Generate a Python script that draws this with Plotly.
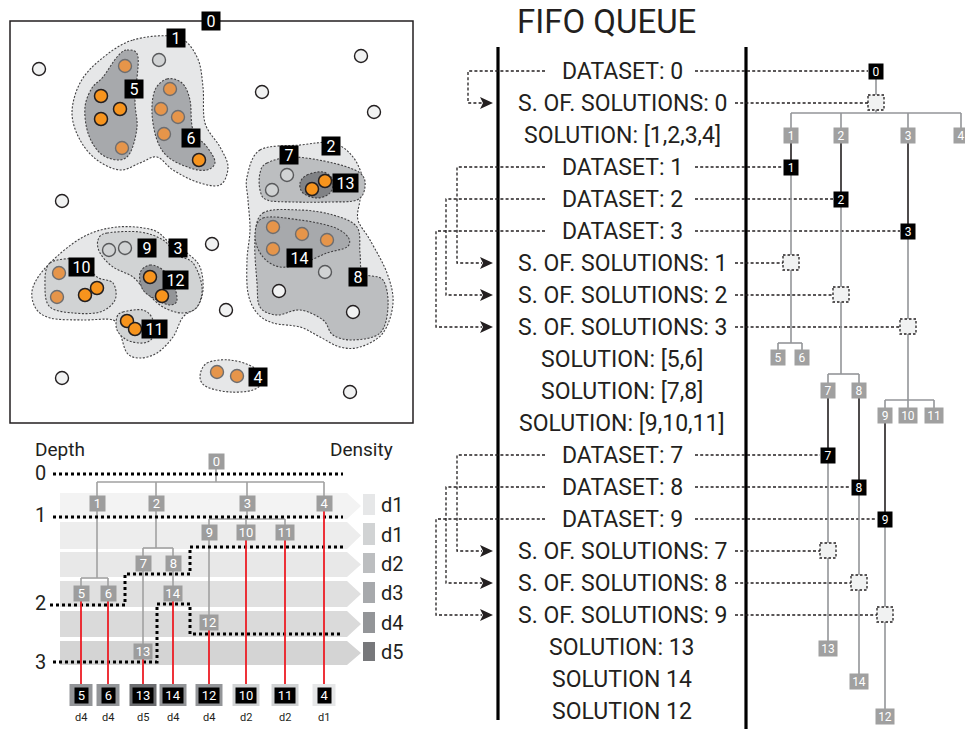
import plotly.graph_objects as go

W, H = 965, 729
FONT = "Roboto"
INK = "#231f20"

# ---------------- cluster map data (pixel space) ----------------
noise_x = [39, 361, 262, 374, 62, 212, 226, 62, 350, 279, 353]
noise_y = [69, 56, 92, 112, 201, 244, 310, 378, 392, 291, 312]
grey_x = [159, 287, 272, 109, 125, 325]
grey_y = [60, 175, 190, 250, 248, 272]
lorange_x = [125, 122, 170, 161, 178, 164, 273, 302, 327, 273, 59, 57, 217, 237]
lorange_y = [66, 148, 89, 109, 117, 134, 227, 234, 240, 249, 273, 297, 372, 376]
orange_x = [101, 120, 101, 199, 325, 312, 85, 97, 150, 162, 127, 135]
orange_y = [96, 109, 119, 160, 181, 189, 295, 288, 277, 296, 321, 329]

cluster_labels = ["0", "1", "5", "6", "2", "7", "13", "14", "8", "9", "3", "10", "12", "11", "4"]
cluster_label_x = [211, 176, 134, 191, 331, 289, 345, 299, 358, 147, 178, 81, 175, 154, 258]
cluster_label_y = [21, 38, 89, 138, 146, 155, 183, 258, 277, 248, 248, 267, 280, 329, 377]

regions = [
    ("#e6e7e8", [(133,40),(177,37),(197,57),(203,87),(205,123),(220,147),(228,167),(220,185),(197,182),(173,170),(157,157),(140,163),(120,170),(97,160),(80,140),(72,113),(80,83),(100,60)]),
    ("#e6e7e8", [(260,150),(300,145),(333,143),(353,157),(363,180),(360,200),(358,220),(370,240),(387,273),(393,303),(383,333),(360,347),(340,347),(320,337),(300,327),(273,323),(257,313),(248,293),(247,260),(250,230),(248,200),(247,177)]),
    ("#e6e7e8", [(50,263),(83,237),(117,227),(153,230),(170,243),(187,253),(200,267),(203,290),(197,307),(183,317),(173,337),(157,353),(140,358),(127,353),(120,333),(113,320),(83,320),(50,318),(35,307),(33,287)]),
    ("#e6e7e8", [(207,363),(230,360),(253,367),(263,380),(253,390),(230,392),(207,387),(200,377)]),
    ("#a7a9ac", [(127,50),(138,57),(135,100),(137,127),(130,153),(118,160),(100,153),(88,133),(85,107),(92,88),(103,77),(117,57)]),
    ("#a7a9ac", [(167,79),(182,83),(190,100),(193,130),(207,147),(215,162),(207,170),(190,168),(168,157),(157,140),(152,113),(155,90)]),
    ("#bcbec0", [(267,163),(293,157),(333,163),(360,173),(365,187),(357,200),(330,202),(293,202),(267,200),(260,190),(260,173)]),
    ("#808285", [(307,175),(323,172),(333,180),(330,193),(317,198),(303,193),(300,183)]),
    ("#bcbec0", [(263,213),(300,210),(333,215),(357,227),(360,253),(363,273),(383,280),(388,307),(380,333),(353,340),(333,335),(323,320),(300,310),(277,315),(260,307),(257,283),(255,240)]),
    ("#a7a9ac", [(263,218),(300,220),(333,227),(348,237),(347,247),(327,253),(303,263),(280,267),(263,257),(255,237)]),
    ("#d1d3d4", [(107,233),(140,232),(163,240),(177,255),(193,263),(202,287),(197,307),(182,313),(163,307),(147,293),(133,277),(113,267),(100,253),(98,240)]),
    ("#939598", [(150,265),(163,270),(173,283),(177,300),(170,305),(157,300),(143,290),(140,273)]),
    ("#d1d3d4", [(50,263),(80,260),(97,277),(113,283),(115,300),(100,312),(73,313),(50,307),(45,287)]),
    ("#d1d3d4", [(123,312),(143,310),(153,320),(153,337),(143,343),(127,340),(117,330),(117,317)]),
]

# ---------------- depth / density tree data ----------------
tree_labels = ["0", "1", "2", "3", "4", "9", "10", "11", "7", "8", "5", "6", "14", "12", "13"]
tree_x = [216, 97, 156, 247, 324, 209, 246, 285, 143, 173, 81, 108, 173, 209, 143]
tree_y = [461, 503, 503, 503, 503, 532, 532, 532, 563, 563, 593, 593, 593, 622, 651]
leaf_labels = ["5", "6", "13", "14", "12", "10", "11", "4"]
leaf_density = ["d4", "d4", "d5", "d4", "d4", "d2", "d2", "d1"]
density_names = ["d1", "d1", "d2", "d3", "d4", "d5"]
density_colors = {"d1": "#e6e7e8", "d2": "#d1d3d4", "d3": "#a7a9ac", "d4": "#939598", "d5": "#6d6e71"}
legend_colors = ["#e6e7e8", "#d1d3d4", "#bcbec0", "#a7a9ac", "#939598", "#77787b"]
band_colors = ["#f3f3f3", "#ededed", "#e8e8e8", "#e0e0e0", "#dadada", "#d4d4d4"]
band_top = [493, 522, 552, 581, 611, 641]
band_bot = [519, 549, 577, 607, 637, 665]
depth_ticks = ["0", "1", "2", "3"]
depth_tick_y = [473, 515, 603, 662]

# ---------------- FIFO queue data ----------------
queue_items = ["DATASET: 0", "S. OF. SOLUTIONS: 0", "SOLUTION: [1,2,3,4]",
               "DATASET: 1", "DATASET: 2", "DATASET: 3",
               "S. OF. SOLUTIONS: 1", "S. OF. SOLUTIONS: 2", "S. OF. SOLUTIONS: 3",
               "SOLUTION: [5,6]", "SOLUTION: [7,8]", "SOLUTION: [9,10,11]",
               "DATASET: 7", "DATASET: 8", "DATASET: 9",
               "S. OF. SOLUTIONS: 7", "S. OF. SOLUTIONS: 8", "S. OF. SOLUTIONS: 9",
               "SOLUTION: 13", "SOLUTION 14", "SOLUTION 12"]
row_y = [71 + 32 * i for i in range(len(queue_items))]
# (dataset row, sets-of-solutions row, loop x, node x)
queue_links = [(0, 1, 468, 876), (3, 6, 457, 791), (4, 7, 446, 841), (5, 8, 436, 908),
               (12, 15, 457, 828), (13, 16, 446, 859), (14, 17, 436, 885)]
q_black_labels = ["0", "1", "2", "3", "7", "8", "9"]
q_gray_labels = ["1", "2", "3", "4", "5", "6", "7", "8", "9", "10", "11", "13", "14", "12"]
q_gray_x = [791, 841, 908, 961, 778, 802, 828, 859, 885, 908, 934, 828, 859, 885]
q_gray_y = [135, 135, 135, 135, 357, 357, 390, 390, 415, 415, 415, 648, 681, 716]

shapes, annotations = [], []


def smooth_path(pts):
    n = len(pts)
    s = f"M {pts[0][0]},{pts[0][1]}"
    for i in range(n):
        p0, p1, p2, p3 = pts[i - 1], pts[i], pts[(i + 1) % n], pts[(i + 2) % n]
        c1 = (p1[0] + (p2[0] - p0[0]) / 6, p1[1] + (p2[1] - p0[1]) / 6)
        c2 = (p2[0] - (p3[0] - p1[0]) / 6, p2[1] - (p3[1] - p1[1]) / 6)
        s += f" C {c1[0]:.1f},{c1[1]:.1f} {c2[0]:.1f},{c2[1]:.1f} {p2[0]},{p2[1]}"
    return s + " Z"


def poly(pts, color, width, dash=None, fill=None, closed=False):
    p = "M " + " L ".join(f"{x},{y}" for x, y in pts) + (" Z" if closed else "")
    shapes.append(dict(type="path", path=p, xref="x", yref="y", layer="below",
                       line=dict(color=color, width=width, dash=dash) if width else dict(width=0),
                       fillcolor=fill if fill else "rgba(0,0,0,0)"))


def rect(x0, y0, x1, y1, fill, color=None, width=0, dash=None):
    shapes.append(dict(type="rect", x0=x0, y0=y0, x1=x1, y1=y1, xref="x", yref="y", layer="below",
                       fillcolor=fill, line=dict(color=color or fill, width=width, dash=dash)))


def box(x, y, t, w, h, bg, size, fg="white"):
    annotations.append(dict(x=x, y=y, xref="x", yref="y", text=t, showarrow=False, width=w, height=h,
                            bgcolor=bg, borderpad=0, align="center", valign="middle",
                            font=dict(family=FONT, size=size, color=fg)))


def label(x, y, t, size, anchor="center", color=INK):
    annotations.append(dict(x=x, y=y, xref="x", yref="y", text=t, showarrow=False, xanchor=anchor,
                            yanchor="middle", font=dict(family=FONT, size=size, color=color)))


fig = go.Figure()

# ================= cluster map =================
rect(10, 21, 413, 423, "white", INK, 1.5)
for col, pts in regions:
    shapes.append(dict(type="path", path=smooth_path(pts), xref="x", yref="y", layer="below",
                       fillcolor=col, line=dict(color="#414042", width=1.1, dash="2px,1.6px")))

fig.add_trace(go.Scatter(x=noise_x, y=noise_y, mode="markers", hoverinfo="skip",
                         marker=dict(size=13, color="#f1f2f2", line=dict(color=INK, width=1.4))))
fig.add_trace(go.Scatter(x=grey_x, y=grey_y, mode="markers", hoverinfo="skip",
                         marker=dict(size=13, color="#d1d3d4", line=dict(color="#58595b", width=1.4))))
fig.add_trace(go.Scatter(x=lorange_x, y=lorange_y, mode="markers", hoverinfo="skip",
                         marker=dict(size=13, color="#e6954a", line=dict(color="#6d6e71", width=1.4))))
fig.add_trace(go.Scatter(x=orange_x, y=orange_y, mode="markers", hoverinfo="skip",
                         marker=dict(size=13, color="#f7941d", line=dict(color=INK, width=1.5))))
for t, x, y in zip(cluster_labels, cluster_label_x, cluster_label_y):
    box(x, y, t, 11 + 7 * len(t), 18, "black", 16)

# ================= depth / density tree =================
for top, bot, col in zip(band_top, band_bot, band_colors):
    mid = (top + bot) / 2
    poly([(60, top), (347, top), (361, mid), (347, bot), (60, bot)], None, 0, fill=col, closed=True)
for top, bot, col, name in zip(band_top, band_bot, legend_colors, density_names):
    rect(363, top + 1, 375, bot - 4, col)
    label(379, (top + bot) / 2 - 1, name, 20, "left")

label(33, 449, "Depth", 19, "left")
label(395, 449, "Density", 19, "right")
for t, y in zip(depth_ticks, depth_tick_y):
    label(40, y, t, 20)

pos = {t: (x, y) for t, x, y in zip(tree_labels, tree_x, tree_y)}
GE = "#a0a0a0"


def branch(parent, children, bar_y):
    px, py = pos[parent]
    poly([(px, py), (px, bar_y)], GE, 1.6)
    xs = [pos[c][0] for c in children]
    poly([(min(xs), bar_y), (max(xs), bar_y)], GE, 1.6)
    for c in children:
        poly([(pos[c][0], bar_y), pos[c]], GE, 1.6)


branch("0", ["1", "2", "3", "4"], 482)
branch("1", ["5", "6"], 578)
branch("2", ["7", "8"], 548)
branch("3", ["9", "10", "11"], 519)
branch("8", ["14"], 578)
branch("9", ["12"], 580)
branch("7", ["13"], 600)

poly([(53, 474), (343, 474)], "black", 3, "3px,3px")
poly([(53, 517), (343, 517)], "black", 3, "3px,3px")
poly([(50, 605), (125, 605), (125, 574), (190, 574), (190, 547), (343, 547)], "black", 3, "3px,3px")
poly([(53, 662), (157, 662), (157, 604), (190, 604), (190, 634), (343, 634)], "black", 3, "3px,3px")

for t, d in zip(leaf_labels, leaf_density):
    x, y = pos[t]
    poly([(x, y), (x, 684)], "#ed1c24", 1.8)
    w = 23 if len(t) == 1 else 27
    rect(x - w / 2, 684, x + w / 2, 706, density_colors[d])
    box(x, 695, t, 13 if len(t) == 1 else 20, 15, "black", 13)
    label(x, 717, d, 11)

for t, x, y in zip(tree_labels, tree_x, tree_y):
    box(x, y, t, 15 if len(t) == 1 else 18, 15, "#9d9d9d", 13)

# ================= FIFO queue =================
label(606, 21, "FIFO QUEUE", 33)
poly([(498, 47), (498, 720)], "black", 3.2)
poly([(746, 47), (746, 729)], "black", 3.2)
for t, y in zip(queue_items, row_y):
    label(622, y, t, 23)

QD = "3px,2.2px"
for d, s, lx, nx in queue_links:
    yd, ys = row_y[d], row_y[s]
    poly([(545, yd), (lx, yd), (lx, ys), (482, ys)], INK, 1.3, QD)
    poly([(480, ys - 6), (493, ys), (480, ys + 6), (483, ys)], None, 0, fill=INK, closed=True)
    poly([(695, yd), (nx - 8, yd)], INK, 1.3, QD)
    poly([(735, ys), (nx - 8, ys)], INK, 1.3, QD)

GT = "#939598"
poly([(876, 71), (876, 113)], GT, 1.6)
poly([(791, 113), (961, 113)], GT, 1.6)
for x in [791, 841, 908, 961]:
    poly([(x, 113), (x, 135)], GT, 1.6)
for (gx, gy), (d, s, lx, nx) in zip([(791, 135), (841, 135), (908, 135), (828, 390), (859, 390), (885, 415)],
                                    queue_links[1:]):
    poly([(gx, gy), (gx, row_y[d])], INK, 1.6)
poly([(791, 167), (791, 343)], GT, 1.6)
poly([(778, 343), (802, 343)], GT, 1.6)
for x in [778, 802]:
    poly([(x, 343), (x, 357)], GT, 1.6)
poly([(841, 199), (841, 374)], GT, 1.6)
poly([(828, 374), (859, 374)], GT, 1.6)
for x in [828, 859]:
    poly([(x, 374), (x, 390)], GT, 1.6)
poly([(908, 231), (908, 400)], GT, 1.6)
poly([(885, 400), (934, 400)], GT, 1.6)
for x in [885, 908, 934]:
    poly([(x, 400), (x, 415)], GT, 1.6)
poly([(828, 455), (828, 648)], GT, 1.6)
poly([(859, 487), (859, 681)], GT, 1.6)
poly([(885, 519), (885, 716)], GT, 1.6)

for (d, s, lx, nx), t in zip(queue_links, q_black_labels):
    rect(nx - 8, row_y[s] - 8, nx + 8, row_y[s] + 7, "#f1f2f2", INK, 1.3, "2.5px,2px")
    box(nx, row_y[d], t, 14, 15, "black", 12)
for t, x, y in zip(q_gray_labels, q_gray_x, q_gray_y):
    box(x, y, t, 14 if len(t) == 1 else 18, 15, "#a0a0a0", 12)

fig.update_layout(
    width=W, height=H, margin=dict(l=0, r=0, t=0, b=0),
    paper_bgcolor="white", plot_bgcolor="white", showlegend=False,
    xaxis=dict(range=[0, W], visible=False, fixedrange=True),
    yaxis=dict(range=[H, 0], visible=False, fixedrange=True),
    shapes=shapes, annotations=annotations,
)
fig.write_html("out.html", config={"displayModeBar": False},
               post_script="document.body.style.margin='0';document.body.style.overflow='hidden';")
